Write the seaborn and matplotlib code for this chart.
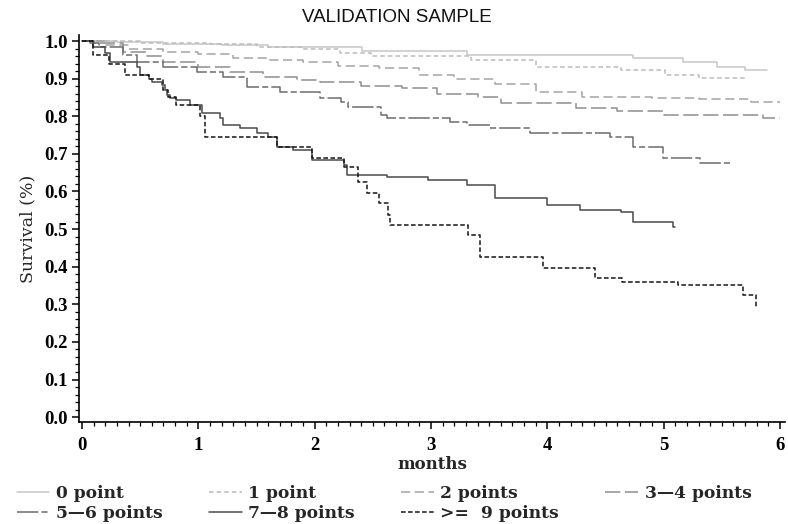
import numpy as np
import pandas as pd
import matplotlib
matplotlib.use("Agg")
import matplotlib.pyplot as plt
from matplotlib.ticker import MultipleLocator
import seaborn as sns

# step curves: (time in months, survival)
t_0pt = [0, 0.3, 0.7, 1.2, 1.6, 2.41, 3.31, 4.74, 5.17, 5.46, 5.7]
s_0pt = [1.0, 0.997, 0.993, 0.99, 0.984, 0.973, 0.963, 0.955, 0.945, 0.93, 0.923]

t_1pt = [0, 0.5, 1.1, 1.5, 1.9, 2.22, 2.48, 3.34, 3.9, 4.63, 5.01, 5.3]
s_1pt = [1.0, 0.996, 0.992, 0.985, 0.979, 0.968, 0.96, 0.95, 0.93, 0.923, 0.91, 0.902]

t_2pt = [0, 0.2, 0.4, 0.7, 1.0, 1.3, 1.6, 1.9, 2.2, 2.55, 2.9, 3.2, 3.55, 3.9, 4.3, 4.9, 5.3, 5.75]
s_2pt = [1.0, 0.99, 0.98, 0.97, 0.965, 0.955, 0.95, 0.944, 0.933, 0.928, 0.91, 0.9, 0.885, 0.865,
         0.852, 0.848, 0.845, 0.838]

t_34pt = [0, 0.1, 0.35, 0.56, 0.7, 1.0, 1.27, 1.56, 1.85, 2.05, 2.4, 2.75, 3.05, 3.4, 3.6, 4.25,
          4.6, 5.0, 5.85]
s_34pt = [1.0, 0.995, 0.97, 0.96, 0.944, 0.93, 0.918, 0.904, 0.896, 0.89, 0.88, 0.875, 0.86, 0.851,
          0.835, 0.822, 0.813, 0.803, 0.795]

t_56pt = [0, 0.07, 0.15, 0.35, 0.47, 0.7, 0.99, 1.21, 1.42, 1.70, 2.05, 2.23, 2.29, 2.57, 2.62,
          3.16, 3.31, 3.51, 3.85, 4.54, 4.74, 4.99, 5.31]
s_56pt = [1.0, 0.995, 0.984, 0.963, 0.944, 0.93, 0.918, 0.904, 0.878, 0.864, 0.848, 0.838, 0.824,
          0.803, 0.795, 0.785, 0.777, 0.769, 0.755, 0.745, 0.718, 0.689, 0.675]

t_78pt = [0, 0.095, 0.2, 0.24, 0.47, 0.5, 0.58, 0.6, 0.69, 0.71, 0.73, 0.76, 0.81, 0.93, 1.03,
          1.19, 1.21, 1.36, 1.5, 1.6, 1.68, 1.81, 1.98, 2.25, 2.28, 2.62, 2.97, 3.31, 3.55, 4.0,
          4.28, 4.63, 4.74, 5.08]
s_78pt = [1.0, 0.985, 0.967, 0.945, 0.932, 0.91, 0.90, 0.892, 0.883, 0.87, 0.856, 0.848, 0.843,
          0.83, 0.808, 0.795, 0.777, 0.769, 0.755, 0.745, 0.718, 0.71, 0.684, 0.67, 0.644, 0.638,
          0.63, 0.617, 0.582, 0.564, 0.551, 0.545, 0.519, 0.505]

t_9pt = [0, 0.095, 0.23, 0.37, 0.58, 0.70, 0.74, 0.81, 1.01, 1.06, 1.68, 1.98, 2.25, 2.37, 2.45,
         2.55, 2.63, 2.65, 3.32, 3.42, 3.96, 4.41, 4.64, 5.12, 5.68, 5.79]
s_9pt = [1.0, 0.963, 0.94, 0.91, 0.90, 0.87, 0.852, 0.83, 0.80, 0.745, 0.718, 0.69, 0.665, 0.625,
         0.596, 0.569, 0.537, 0.511, 0.484, 0.426, 0.396, 0.37, 0.359, 0.351, 0.324, 0.293]

groups = ["0 point", "1 point", "2 points", "3\u20144 points", "5\u20146 points",
          "7\u20148 points", ">=  9 points"]
last_time = [5.89, 5.7, 6.0, 6.0, 5.6, 5.1, 5.8]

curves = [(t_0pt, s_0pt), (t_1pt, s_1pt), (t_2pt, s_2pt), (t_34pt, s_34pt),
          (t_56pt, s_56pt), (t_78pt, s_78pt), (t_9pt, s_9pt)]

# long-form table, each curve carried on to its last follow-up time
rows = []
for name, (tt, ss), t_end in zip(groups, curves, last_time):
    for a, b in zip(tt + [t_end], ss + [ss[-1]]):
        rows.append((name, a, b))
df = pd.DataFrame(rows, columns=["group", "months", "survival"])

colors = ["#c6c6c6", "#bcbcbc", "#a4a4a4", "#8e8e8e", "#6c6c6c", "#4a4a4a", "#151515"]
dash_styles = ["", (3, 2), (6, 3), (10, 3), (14, 2, 4, 2), "", (3, 1.6)]

sns.set_theme(style="ticks")
serif = "DejaVu Serif"
tick_font = "Liberation Serif"

fig = plt.figure(figsize=(7.88, 5.24), dpi=100)
ax = fig.add_axes([79 / 788, 1 - 422 / 524, (785 - 79) / 788, (422 - 35) / 524])

sns.lineplot(data=df, x="months", y="survival", hue="group", style="group",
             hue_order=groups, style_order=groups,
             palette=dict(zip(groups, colors)), dashes=dict(zip(groups, dash_styles)),
             drawstyle="steps-post", estimator=None, sort=False, linewidth=1.1, ax=ax)

handles, labels = ax.get_legend_handles_labels()
lookup = dict(zip(labels, handles))
ax.get_legend().remove()

ax.set_xlim(-0.026, 6.043)
ax.set_ylim(-0.013, 1.016)
ax.xaxis.set_major_locator(MultipleLocator(1))
ax.xaxis.set_minor_locator(MultipleLocator(0.1))
ax.yaxis.set_major_locator(MultipleLocator(0.1))
ax.yaxis.set_minor_locator(MultipleLocator(0.02))
ax.set_xticks(range(7))
ax.set_xticklabels([str(i) for i in range(7)])
ax.set_yticks(np.round(np.arange(0, 1.01, 0.1), 1))
ax.set_yticklabels([f"{v:.1f}" for v in np.arange(0, 1.01, 0.1)])
ax.tick_params(which="major", direction="out", length=5, width=1.1, color="black",
               labelsize=13.5)
ax.tick_params(axis="x", which="major", pad=6)
ax.tick_params(axis="y", which="major", pad=3)
ax.tick_params(which="minor", direction="out", length=3, width=0.9, color="black")
for lab in ax.get_xticklabels() + ax.get_yticklabels():
    lab.set_family(tick_font)
    lab.set_fontweight("bold")
    lab.set_color("black")

sns.despine(ax=ax)
for side in ["left", "bottom"]:
    ax.spines[side].set_color("black")
    ax.spines[side].set_linewidth(1.2)

ax.set_xlabel("months", family=serif, fontweight="bold", fontsize=12, labelpad=1)
ax.set_ylabel("Survival (%)", family=serif, fontsize=12.5, labelpad=6)
fig.text(397 / 788, 1 - 18 / 524, "VALIDATION SAMPLE", ha="center", va="center",
         family="Liberation Sans", fontsize=13.5, color="#111111")

# legend fills column-wise: put entries so rows read like the original
order = [0, 4, 1, 5, 2, 6, 3]
fig.legend([lookup[groups[i]] for i in order], [groups[i] for i in order], ncol=4,
           loc="upper left", bbox_to_anchor=(17 / 788, 1 - 485 / 524), frameon=False,
           prop={"family": serif, "weight": "bold", "size": 12.3},
           handlelength=1.9, handletextpad=0.4, columnspacing=2.7,
           labelspacing=0.15, borderaxespad=0, borderpad=0)

fig.savefig("out.png", dpi=100)
